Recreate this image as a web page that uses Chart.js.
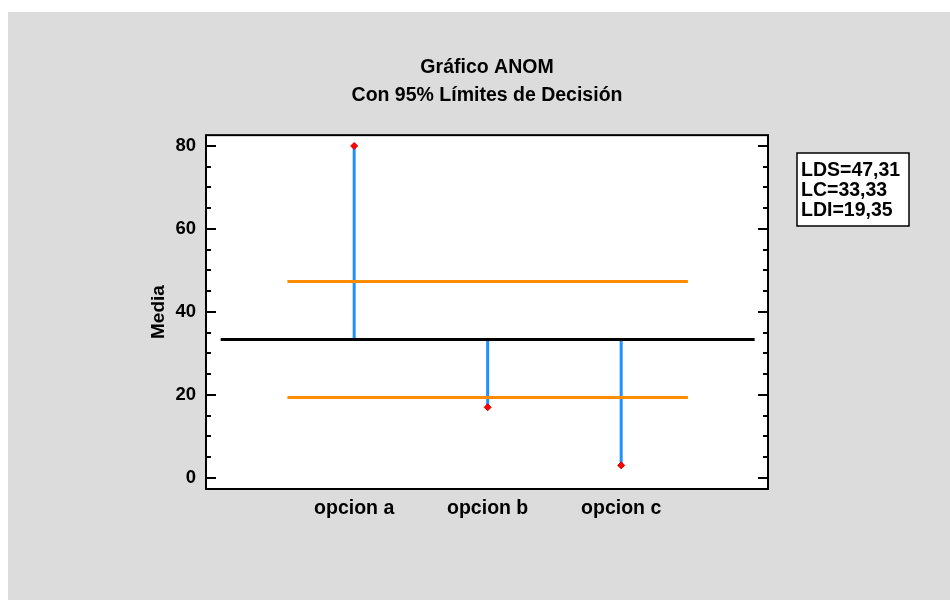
<html lang="es">
<head>
  <meta charset="utf-8">
  <title>Gráfico ANOM</title>
  <style>
    body { padding: 0; margin: 0; background: #fff; }
    #wrap { width: 950px; height: 600px; }
  </style>
  <script src="https://cdn.jsdelivr.net/npm/chart.js@4.4.1/dist/chart.umd.min.js"></script>
</head>
<body>
  <div id="wrap"><canvas id="chart" width="950" height="600"></canvas></div>
  <script>
    // values
    const categories = ['opcion a', 'opcion b', 'opcion c'];
    const means = [80, 17, 3];
    const centerLine = 33.33;
    const upperLimit = 47.31;
    const lowerLimit = 19.35;
    const yTicks = [0, 20, 40, 60, 80];
    const titleLines = ['Gráfico ANOM', 'Con 95% Límites de Decisión'];

    const FONT = "'Liberation Sans', Arial, sans-serif";
    const fmt = v => v.toFixed(2).replace('.', ',');
    const limitLabels = ['LDS=' + fmt(upperLimit), 'LC=' + fmt(centerLine), 'LDI=' + fmt(lowerLimit)];

    const datasets = [];
    // decision limits
    datasets.push({ data: [{x: 0.5, y: upperLimit}, {x: 3.5, y: upperLimit}], borderColor: '#ff8c00', borderWidth: 3, pointRadius: 0, order: 0 });
    datasets.push({ data: [{x: 0.5, y: lowerLimit}, {x: 3.5, y: lowerLimit}], borderColor: '#ff8c00', borderWidth: 3, pointRadius: 0, order: 0 });
    // center line
    datasets.push({ data: [{x: 0, y: centerLine}, {x: 4, y: centerLine}], borderColor: '#000', borderWidth: 3, pointRadius: 0, order: 1 });
    // vertical lines from center to each mean
    means.forEach((m, i) => {
      datasets.push({
        data: [{x: i + 1, y: centerLine}, {x: i + 1, y: m}],
        borderColor: '#1e90ff', borderWidth: 3,
        pointRadius: [0, 3.5], pointStyle: 'rectRot',
        pointBackgroundColor: '#ff0000', pointBorderColor: '#e00000', pointBorderWidth: 1,
        order: 2
      });
    });

    const framePlugin = {
      id: 'frame',
      beforeDraw(chart) {
        const c = chart.ctx, a = chart.chartArea;
        c.save();
        c.fillStyle = '#dcdcdc';
        c.fillRect(8, 12, chart.width - 8, chart.height - 12);
        c.fillStyle = '#fff';
        c.fillRect(a.left, a.top, a.right - a.left, a.bottom - a.top);
        c.restore();
      },
      afterDraw(chart) {
        const c = chart.ctx, a = chart.chartArea, y = chart.scales.y;
        c.save();
        c.strokeStyle = '#000';
        c.lineWidth = 2;
        c.strokeRect(a.left, a.top, a.right - a.left, a.bottom - a.top);
        // inward ticks, left and right
        c.beginPath();
        for (let v = 0; v <= 80; v += 5) {
          const py = Math.round(y.getPixelForValue(v));
          const len = v % 20 === 0 ? 10 : 5;
          c.moveTo(a.left, py); c.lineTo(a.left + len, py);
          c.moveTo(a.right, py); c.lineTo(a.right - len, py);
        }
        c.stroke();
        // limits box
        c.fillStyle = '#fff';
        c.fillRect(797, 153, 112, 73);
        c.lineWidth = 1.5;
        c.strokeRect(797, 153, 112, 73);
        c.fillStyle = '#000';
        c.font = 'bold 19.5px ' + FONT;
        c.textBaseline = 'middle';
        limitLabels.forEach((t, i) => c.fillText(t, 801, 171 + i * 20));
        c.restore();
      }
    };

    new Chart(document.getElementById('chart'), {
      type: 'line',
      data: { datasets },
      options: {
        responsive: false,
        animation: false,
        layout: { padding: { left: 147, right: 182, top: 0, bottom: 0 } },
        plugins: {
          legend: { display: false },
          tooltip: { enabled: false },
          title: {
            display: true,
            fullSize: false,
            text: titleLines,
            color: '#000',
            font: { family: FONT, size: 19.5, weight: 'bold', lineHeight: 1.44 },
            padding: { top: 54, bottom: 25 }
          }
        },
        scales: {
          x: {
            type: 'linear',
            min: -0.11, max: 4.1,
            afterBuildTicks: s => { s.ticks = categories.map((c, i) => ({ value: i + 1 })); },
            afterFit: s => { s.height = 111; },
            grid: { display: false, drawTicks: false },
            border: { display: false },
            ticks: {
              color: '#000', padding: 8,
              font: { family: FONT, size: 19.5, weight: 'bold' },
              callback: v => categories[v - 1]
            }
          },
          y: {
            min: -2.7, max: 82.6,
            afterBuildTicks: s => { s.ticks = yTicks.map(v => ({ value: v })); },
            afterFit: s => { s.width = 59; },
            grid: { display: false, drawTicks: false },
            border: { display: false },
            ticks: {
              color: '#000', padding: 10,
              font: { family: FONT, size: 18.5, weight: 'bold' }
            },
            title: {
              display: true, text: 'Media', color: '#000', padding: 0,
              font: { family: FONT, size: 19, weight: 'bold' }
            }
          }
        }
      },
      plugins: [framePlugin]
    });
  </script>
</body>
</html>
